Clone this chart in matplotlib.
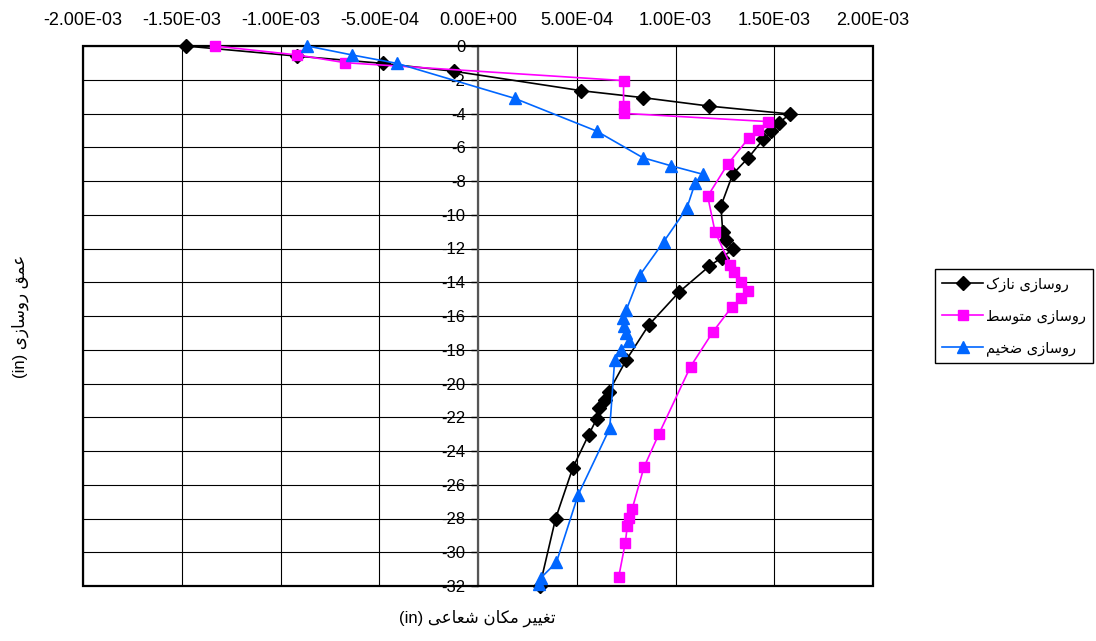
import matplotlib
matplotlib.use("Agg")
import matplotlib.pyplot as plt
from matplotlib.ticker import FuncFormatter
from matplotlib.patches import Rectangle

plt.rcParams['font.family'] = ['Liberation Sans', 'DejaVu Sans']
plt.rcParams['axes.unicode_minus'] = False

# ---------------- data (x in 1e-3 in, depth in in) ----------------
thin_x = [-1.48, -0.915, -0.483, -0.12, 0.524, 0.835, 1.17, 1.58, 1.525, 1.486, 1.444,
          1.369, 1.29, 1.23, 1.239, 1.256, 1.293, 1.234, 1.172, 1.02, 0.865, 0.751,
          0.662, 0.641, 0.613, 0.60, 0.56, 0.48, 0.393, 0.313]
thin_y = [0, -0.6, -1.03, -1.5, -2.65, -3.06, -3.56, -4.03, -4.54, -5.04, -5.53,
          -6.62, -7.59, -9.48, -11.0, -11.5, -12.03, -12.54, -13.04, -14.56, -16.53, -18.6,
          -20.49, -20.98, -21.47, -22.12, -23.05, -25.0, -28.0, -32.0]

mid_x = [-1.333, -0.916, -0.672, 0.737, 0.737, 0.737, 1.47, 1.416, 1.37, 1.264, 1.163,
         1.20, 1.278, 1.295, 1.332, 1.365, 1.332, 1.286, 1.19, 1.076, 0.916, 0.84,
         0.78, 0.763, 0.756, 0.746, 0.712]
mid_y = [0, -0.53, -0.99, -2.05, -3.54, -3.99, -4.48, -4.98, -5.47, -7.01, -8.9,
         -11.0, -12.98, -13.37, -13.96, -14.5, -14.95, -15.45, -16.93, -19.0, -22.99, -24.97,
         -27.46, -27.99, -28.44, -29.43, -31.49]

thick_x = [-0.864, -0.638, -0.41, 0.185, 0.60, 0.835, 0.978, 1.138, 1.10, 1.057, 0.94,
           0.82, 0.751, 0.734, 0.737, 0.747, 0.764, 0.726, 0.692, 0.667, 0.507, 0.397,
           0.32, 0.31]
thick_y = [0, -0.53, -1.03, -3.1, -5.04, -6.62, -7.1, -7.6, -8.1, -9.62, -11.6,
           -13.57, -15.64, -16.14, -16.59, -17.03, -17.46, -18.0, -18.6, -22.66, -26.6, -30.6,
           -31.5, -31.9]

x_ticks = [-2.0, -1.5, -1.0, -0.5, 0.0, 0.5, 1.0, 1.5, 2.0]
y_ticks = list(range(0, -33, -2))

# ---------------- minimal Persian shaping (presentation forms) ----------------
FORMS = {
    '\u0627': (0xFE8D, 0xFE8E, None, None),
    '\u062A': (0xFE95, 0xFE96, 0xFE97, 0xFE98),
    '\u062E': (0xFEA5, 0xFEA6, 0xFEA7, 0xFEA8),
    '\u0631': (0xFEAD, 0xFEAE, None, None),
    '\u0632': (0xFEAF, 0xFEB0, None, None),
    '\u0633': (0xFEB1, 0xFEB2, 0xFEB3, 0xFEB4),
    '\u0634': (0xFEB5, 0xFEB6, 0xFEB7, 0xFEB8),
    '\u0636': (0xFEBD, 0xFEBE, 0xFEBF, 0xFEC0),
    '\u0637': (0xFEC1, 0xFEC2, 0xFEC3, 0xFEC4),
    '\u0639': (0xFEC9, 0xFECA, 0xFECB, 0xFECC),
    '\u063A': (0xFECD, 0xFECE, 0xFECF, 0xFED0),
    '\u0642': (0xFED5, 0xFED6, 0xFED7, 0xFED8),
    '\u0645': (0xFEE1, 0xFEE2, 0xFEE3, 0xFEE4),
    '\u0646': (0xFEE5, 0xFEE6, 0xFEE7, 0xFEE8),
    '\u0648': (0xFEED, 0xFEEE, None, None),
    '\u06A9': (0xFB8E, 0xFB8F, 0xFB90, 0xFB91),
    '\u06CC': (0xFBFC, 0xFBFD, 0xFBFE, 0xFBFF),
}


def rtl(text):
    out = []
    for i, ch in enumerate(text):
        f = FORMS.get(ch)
        if f is None:
            out.append(ch)
            continue
        prev = text[i - 1] if i > 0 else None
        nxt = text[i + 1] if i + 1 < len(text) else None
        jp = prev in FORMS and FORMS[prev][2] is not None
        jn = nxt in FORMS and f[2] is not None
        if jp and jn:
            c = f[3]
        elif jp:
            c = f[1]
        elif jn:
            c = f[2]
        else:
            c = f[0]
        out.append(chr(c))
    return ''.join(reversed(out))


labels = [rtl('روسازی نازک'), rtl('روسازی متوسط'), rtl('روسازی ضخیم')]
xlabel = '(in) ' + rtl('تغییر مکان شعاعی')
ylabel = '(in) ' + rtl('عمق روسازی')

# ---------------- figure ----------------
W, H = 1096, 641
fig = plt.figure(figsize=(W / 100, H / 100), dpi=100)
ax = fig.add_axes([83 / W, 1 - 586 / H, (873 - 83) / W, (586 - 46) / H])

ax.set_xlim(-2.0, 2.0)
ax.set_ylim(-32, 0)
ax.set_xticks(x_ticks)
ax.set_yticks(y_ticks)
ax.xaxis.set_major_formatter(FuncFormatter(lambda v, p: f"{v * 1e-3:.2E}"))
ax.yaxis.set_major_formatter(FuncFormatter(lambda v, p: f"{int(round(v))}"))
ax.xaxis.tick_top()
ax.tick_params(axis='x', length=0, pad=12, labelsize=13)
ax.tick_params(axis='y', direction='out', length=5, width=1, pad=4, labelsize=12)

ax.grid(True, color='black', linewidth=0.8)
ax.set_axisbelow(True)
for s in ['top', 'bottom', 'right']:
    ax.spines[s].set_visible(False)
ax.spines['left'].set_position(('data', 0))
ax.spines['left'].set_color('#555555')
ax.spines['left'].set_linewidth(1.6)
ax.add_patch(Rectangle((0, 0), 1, 1, transform=ax.transAxes, fill=False,
                       edgecolor='black', linewidth=1.6, clip_on=False, zorder=5))

l1, = ax.plot(thin_x, thin_y, color='black', lw=1.2, marker='D', ms=7.5,
              mfc='black', mec='black', clip_on=False, zorder=6)
l2, = ax.plot(mid_x, mid_y, color='#ff00ff', lw=1.2, marker='s', ms=7.5,
              mfc='#ff00ff', mec='#ff00ff', clip_on=False, zorder=6)
l3, = ax.plot(thick_x, thick_y, color='#0066ff', lw=1.2, marker='^', ms=9,
              mfc='#0066ff', mec='#0066ff', clip_on=False, zorder=6)

leg = fig.legend([l1, l2, l3], labels, loc='upper left',
                 bbox_to_anchor=(935 / W, 1 - 269 / H), borderaxespad=0,
                 prop={'family': ['DejaVu Sans'], 'size': 10.5},
                 frameon=True, fancybox=False, edgecolor='black',
                 framealpha=1, handlelength=2.8, handletextpad=0.2,
                 labelspacing=1.15, borderpad=0.5)
leg.get_frame().set_linewidth(1.0)

fig.text(477 / W, 1 - 618 / H, xlabel, ha='center', va='center', fontsize=12)
fig.text(20 / W, 1 - 316 / H, ylabel, ha='center', va='center', fontsize=12,
         rotation=90)

fig.savefig('out.png', dpi=100)
